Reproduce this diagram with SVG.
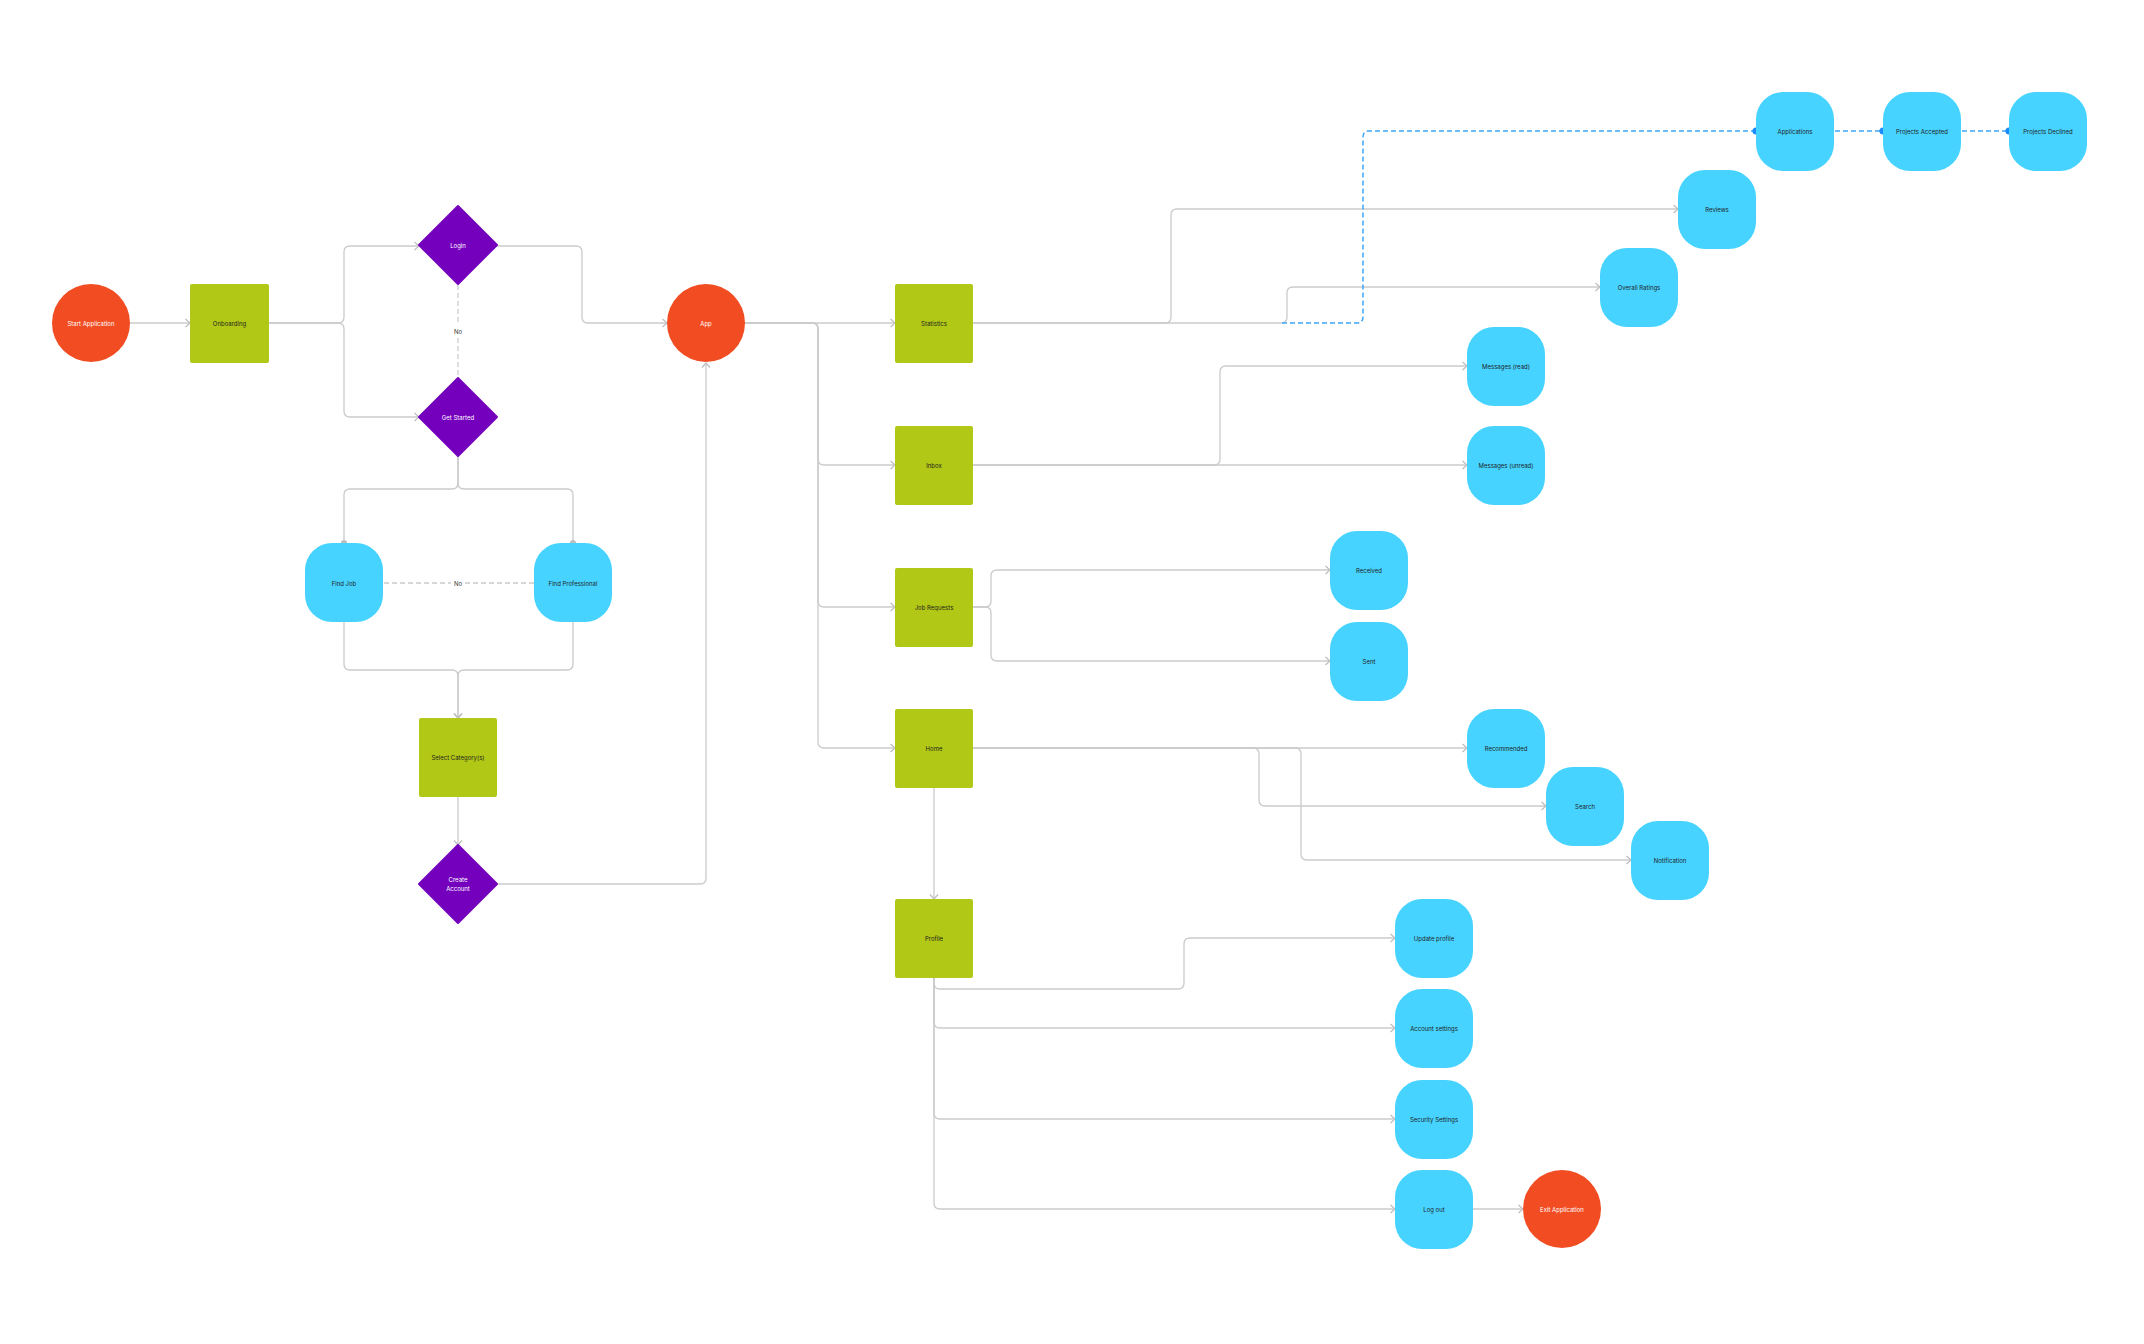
<svg xmlns="http://www.w3.org/2000/svg" width="2144" height="1344" viewBox="0 0 2144 1344">
<style>
.t{font-family:Inter,"Liberation Sans",sans-serif;font-size:6px;text-anchor:middle;dominant-baseline:central}
.dk{fill:#1e1e1e}.wt{fill:#ffffff}
.or{fill:#f24c22}.gr{fill:#b2c817}.pu{fill:#7400bd}.bl{fill:#47d3ff}
.c{fill:none;stroke:#cbcbcb;stroke-width:1.3}
.d{fill:none;stroke:#cbcbcb;stroke-width:1.3;stroke-dasharray:5 3}
.b{fill:none;stroke:#3ea5f5;stroke-width:1.5;stroke-dasharray:5 3}
.lb{font-family:Inter,"Liberation Sans",sans-serif;font-size:6px;text-anchor:middle;dominant-baseline:central;fill:#333}
</style>
<defs>
<marker id="ar" markerUnits="userSpaceOnUse" markerWidth="10" markerHeight="10" refX="6" refY="5" orient="auto">
<path d="M1.5,1 L6,5 L1.5,9" fill="none" stroke="#bdbdbd" stroke-width="1.2"/>
</marker>
<marker id="gd" markerUnits="userSpaceOnUse" markerWidth="8" markerHeight="8" refX="4" refY="4" orient="auto">
<circle cx="4" cy="4" r="3" fill="#bdbdbd"/>
</marker>
<marker id="bd" markerUnits="userSpaceOnUse" markerWidth="9" markerHeight="9" refX="4.5" refY="4.5" orient="auto">
<circle cx="4.5" cy="4.5" r="3.6" fill="#1a8cff"/>
</marker>
</defs>
<rect width="2144" height="1344" fill="#ffffff"/>
<g id="connectors">
<path class="c" marker-end="url(#ar)" d="M130,323 H190"/>
<path class="c" marker-end="url(#ar)" d="M269,323 H338 Q344,323 344,317 V252 Q344,246 350,246 H419"/>
<path class="c" marker-end="url(#ar)" d="M269,323 H338 Q344,323 344,329 V411 Q344,417 350,417 H419"/>
<path class="c" marker-end="url(#ar)" d="M497,246 H576 Q582,246 582,252 V317 Q582,323 588,323 H667"/>
<path class="d" d="M458,285 V325 M458,338 V378"/>
<text class="lb" x="458" y="331">No</text>
<path class="c" marker-end="url(#gd)" d="M458,456 V483 Q458,489 452,489 H350 Q344,489 344,495 V543"/>
<path class="c" marker-end="url(#gd)" d="M458,456 V483 Q458,489 464,489 H567 Q573,489 573,495 V543"/>
<path class="d" d="M384,583 H451 M465,583 H534"/>
<text class="lb" x="458" y="583">No</text>
<path class="c" marker-end="url(#ar)" d="M344,622 V664 Q344,670 350,670 H452 Q458,670 458,676 V718"/>
<path class="c" marker-end="url(#ar)" d="M573,622 V664 Q573,670 567,670 H464 Q458,670 458,676 V718"/>
<path class="c" marker-end="url(#ar)" d="M458,797 V845"/>
<path class="c" marker-end="url(#ar)" d="M497,884 H700 Q706,884 706,878 V363"/>
<path class="c" marker-end="url(#ar)" d="M745,323 H895"/>
<path class="c" marker-end="url(#ar)" d="M745,323 H812 Q818,323 818,329 V459 Q818,465 824,465 H895"/>
<path class="c" marker-end="url(#ar)" d="M745,323 H812 Q818,323 818,329 V601 Q818,607 824,607 H895"/>
<path class="c" marker-end="url(#ar)" d="M745,323 H812 Q818,323 818,329 V742 Q818,748 824,748 H895"/>
<path class="c" marker-end="url(#ar)" d="M973,323 H1165 Q1171,323 1171,317 V215 Q1171,209 1177,209 H1678"/>
<path class="c" marker-end="url(#ar)" d="M973,323 H1281 Q1287,323 1287,317 V293 Q1287,287 1293,287 H1600"/>
<path class="b" marker-end="url(#bd)" d="M1282,323 H1357 Q1363,323 1363,317 V137 Q1363,131 1369,131 H1756"/>
<path class="b" marker-end="url(#bd)" d="M1835,131 H1883"/>
<path class="b" marker-end="url(#bd)" d="M1962,131 H2009"/>
<path class="c" marker-end="url(#ar)" d="M973,465 H1467"/>
<path class="c" marker-end="url(#ar)" d="M973,465 H1214 Q1220,465 1220,459 V372 Q1220,366 1226,366 H1467"/>
<path class="c" marker-end="url(#ar)" d="M973,607 H985 Q991,607 991,601 V576 Q991,570 997,570 H1330"/>
<path class="c" marker-end="url(#ar)" d="M973,607 H985 Q991,607 991,613 V655 Q991,661 997,661 H1330"/>
<path class="c" marker-end="url(#ar)" d="M973,748 H1467"/>
<path class="c" marker-end="url(#ar)" d="M973,748 H1253 Q1259,748 1259,754 V800 Q1259,806 1265,806 H1546"/>
<path class="c" marker-end="url(#ar)" d="M973,748 H1295 Q1301,748 1301,754 V854 Q1301,860 1307,860 H1631"/>
<path class="c" marker-end="url(#ar)" d="M934,787 V899"/>
<path class="c" marker-end="url(#ar)" d="M934,977 V983 Q934,989 940,989 H1178 Q1184,989 1184,983 V944 Q1184,938 1190,938 H1395"/>
<path class="c" marker-end="url(#ar)" d="M934,977 V1022 Q934,1028 940,1028 H1395"/>
<path class="c" marker-end="url(#ar)" d="M934,977 V1113 Q934,1119 940,1119 H1395"/>
<path class="c" marker-end="url(#ar)" d="M934,977 V1203 Q934,1209 940,1209 H1395"/>
<path class="c" marker-end="url(#ar)" d="M1473,1209 H1523"/>
</g>
<g id="start-application"><circle class="or" cx="91" cy="323" r="39"/><text class="t wt" x="91" y="323">Start Application</text></g>
<g id="onboarding"><rect class="gr" x="190" y="284" width="79" height="79" rx="2"/><text class="t dk" x="229.5" y="323">Onboarding</text></g>
<g id="login"><path class="pu" d="M458,206 L497,245 L458,284 L419,245 Z" stroke="#7400bd" stroke-width="2" stroke-linejoin="round"/><text class="t wt" x="458" y="245">Login</text></g>
<g id="get-started"><path class="pu" d="M458,378 L497,417 L458,456 L419,417 Z" stroke="#7400bd" stroke-width="2" stroke-linejoin="round"/><text class="t wt" x="458" y="417">Get Started</text></g>
<g id="find-job"><rect class="bl" x="305" y="543" width="78" height="79" rx="27"/><text class="t dk" x="344" y="583">Find Job</text></g>
<g id="find-professional"><rect class="bl" x="534" y="543" width="78" height="79" rx="27"/><text class="t dk" x="573" y="583">Find Professional</text></g>
<g id="select-category"><rect class="gr" x="419" y="718" width="78" height="79" rx="2"/><text class="t dk" x="458" y="757">Select Category(s)</text></g>
<g id="create-account"><path class="pu" d="M458,845 L497,884 L458,923 L419,884 Z" stroke="#7400bd" stroke-width="2" stroke-linejoin="round"/><text class="t wt" x="458" y="879.5">Create</text><text class="t wt" x="458" y="888.5">Account</text></g>
<g id="app"><circle class="or" cx="706" cy="323" r="39"/><text class="t wt" x="706" y="323">App</text></g>
<g id="statistics"><rect class="gr" x="895" y="284" width="78" height="79" rx="2"/><text class="t dk" x="934" y="323">Statistics</text></g>
<g id="inbox"><rect class="gr" x="895" y="426" width="78" height="79" rx="2"/><text class="t dk" x="934" y="465">Inbox</text></g>
<g id="job-requests"><rect class="gr" x="895" y="568" width="78" height="79" rx="2"/><text class="t dk" x="934" y="607">Job Requests</text></g>
<g id="home"><rect class="gr" x="895" y="709" width="78" height="79" rx="2"/><text class="t dk" x="934" y="748">Home</text></g>
<g id="profile"><rect class="gr" x="895" y="899" width="78" height="79" rx="2"/><text class="t dk" x="934" y="938">Profile</text></g>
<g id="applications"><rect class="bl" x="1756" y="92" width="78" height="79" rx="27"/><text class="t dk" x="1795" y="131">Applications</text></g>
<g id="projects-accepted"><rect class="bl" x="1883" y="92" width="78" height="79" rx="27"/><text class="t dk" x="1922" y="131">Projects Accepted</text></g>
<g id="projects-declined"><rect class="bl" x="2009" y="92" width="78" height="79" rx="27"/><text class="t dk" x="2048" y="131">Projects Declined</text></g>
<g id="reviews"><rect class="bl" x="1678" y="170" width="78" height="79" rx="27"/><text class="t dk" x="1717" y="209">Reviews</text></g>
<g id="overall-ratings"><rect class="bl" x="1600" y="248" width="78" height="79" rx="27"/><text class="t dk" x="1639" y="287">Overall Ratings</text></g>
<g id="messages-read"><rect class="bl" x="1467" y="327" width="78" height="79" rx="27"/><text class="t dk" x="1506" y="366">Messages (read)</text></g>
<g id="messages-unread"><rect class="bl" x="1467" y="426" width="78" height="79" rx="27"/><text class="t dk" x="1506" y="465">Messages (unread)</text></g>
<g id="received"><rect class="bl" x="1330" y="531" width="78" height="79" rx="27"/><text class="t dk" x="1369" y="570">Received</text></g>
<g id="sent"><rect class="bl" x="1330" y="622" width="78" height="79" rx="27"/><text class="t dk" x="1369" y="661">Sent</text></g>
<g id="recommended"><rect class="bl" x="1467" y="709" width="78" height="79" rx="27"/><text class="t dk" x="1506" y="748">Recommended</text></g>
<g id="search"><rect class="bl" x="1546" y="767" width="78" height="79" rx="27"/><text class="t dk" x="1585" y="806">Search</text></g>
<g id="notification"><rect class="bl" x="1631" y="821" width="78" height="79" rx="27"/><text class="t dk" x="1670" y="860">Notification</text></g>
<g id="update-profile"><rect class="bl" x="1395" y="899" width="78" height="79" rx="27"/><text class="t dk" x="1434" y="938">Update profile</text></g>
<g id="account-settings"><rect class="bl" x="1395" y="989" width="78" height="79" rx="27"/><text class="t dk" x="1434" y="1028">Account settings</text></g>
<g id="security-settings"><rect class="bl" x="1395" y="1080" width="78" height="79" rx="27"/><text class="t dk" x="1434" y="1119">Security Settings</text></g>
<g id="log-out"><rect class="bl" x="1395" y="1170" width="78" height="79" rx="27"/><text class="t dk" x="1434" y="1209">Log out</text></g>
<g id="exit-application"><circle class="or" cx="1562" cy="1209" r="39"/><text class="t wt" x="1562" y="1209">Exit Application</text></g>
</svg>
